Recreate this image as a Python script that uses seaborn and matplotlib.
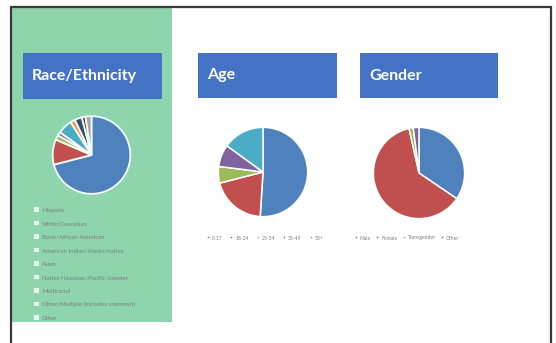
import matplotlib
matplotlib.use("Agg")
import matplotlib.pyplot as plt
from matplotlib.patches import Rectangle
from matplotlib.lines import Line2D
import seaborn as sns

# ---- data -------------------------------------------------------------
race_labels = ["Hispanic", "White/Caucasian", "Black/African American",
               "American Indian/Alaska Native", "Asian",
               "Native Hawaiian/Pacific Islander", "Multiracial",
               "Other/Multiple (includes unknown)", "Other"]
race_values = [71, 10.5, 2, 1.5, 6, 2, 3, 1.5, 2.5]

age_labels = ["0-17", "18-24", "25-34", "35-49", "50+"]
age_values = [51, 20, 6, 8, 15]

gender_labels = ["Male", "Female", "Transgender", "Other"]
gender_values = [34.5, 62, 1.5, 2]

titles = ["Race/Ethnicity", "Age", "Gender"]

# ---- style ------------------------------------------------------------
sns.set_theme(style="white")
plt.rcParams["font.family"] = ["Lato", "DejaVu Sans"]

office = sns.color_palette(["#4F81BD", "#C0504D", "#9BBB59", "#8064A2",
                            "#4BACC6", "#F79646", "#2C4D75", "#772C2A",
                            "#A5A5A5"])
panel_green = "#8ED4AC"
title_blue = "#4472C4"
legend_grey = "#7F7F7F"

W, H = 556, 343
fig = plt.figure(figsize=(W / 100, H / 100), dpi=100)
fig.patch.set_facecolor("white")


def fx(x):
    return x / W


def fy(y):
    return 1 - y / H


# green side panel
fig.patches.append(Rectangle((fx(12), fy(322)), fx(172) - fx(12), fy(8) - fy(322),
                             transform=fig.transFigure, facecolor=panel_green,
                             edgecolor="none", zorder=-5))

# outer frame (no bottom edge)
for xs, ys in [([10.5, 10.5], [343, 6.5]), ([10.5, 550.5], [6.5, 6.5]),
               ([550.5, 550.5], [6.5, 343])]:
    fig.lines.append(Line2D([fx(v) for v in xs], [fy(v) for v in ys],
                            transform=fig.transFigure, color="#3A3A3A", lw=1.6))

# title boxes
boxes = [(23, 53, 162, 99), (198, 53, 337, 98), (360, 53, 498, 98)]
for (x0, y0, x1, y1), t in zip(boxes, titles):
    fig.patches.append(Rectangle((fx(x0), fy(y1)), fx(x1) - fx(x0), fy(y0) - fy(y1),
                                 transform=fig.transFigure, facecolor=title_blue,
                                 edgecolor="none", zorder=1))
    fig.text(fx(x0 + 9), fy((y0 + y1) / 2), t, color="white", fontsize=11.5,
             fontweight="bold", ha="left", va="center", zorder=2)


def pie_axes(cx, cy, r):
    ax = fig.add_axes([fx(cx - r), fy(cy + r), fx(2 * r), fy(cy - r) - fy(cy + r)])
    ax.set_zorder(3)
    ax.patch.set_alpha(0)
    return ax


def draw_pie(ax, values, colors):
    wedges, _ = ax.pie(values, colors=colors, startangle=90, counterclock=False,
                       radius=1, wedgeprops=dict(edgecolor="white", linewidth=1.1))
    ax.set_xlim(-1.03, 1.03)
    ax.set_ylim(-1.03, 1.03)
    ax.set_aspect("equal")
    ax.axis("off")
    return wedges


# Race / Ethnicity
ax_r = pie_axes(91.5, 155, 40)
w_r = draw_pie(ax_r, race_values, office[:len(race_values)])
for w in w_r:
    w.set_edgecolor("#F4FBF7")
    w.set_linewidth(1.3)
leg_r = fig.legend(w_r, race_labels, loc="upper left",
                   bbox_to_anchor=(fx(32), fy(205)), bbox_transform=fig.transFigure,
                   frameon=False, fontsize=4.3, labelcolor=legend_grey,
                   handlelength=0.8, handleheight=0.8, handletextpad=0.5,
                   labelspacing=1.36, borderaxespad=0)
for h in leg_r.legend_handles:
    h.set_facecolor("#EAF6EE")
    h.set_edgecolor("none")

# Age
ax_a = pie_axes(263, 172, 46)
w_a = draw_pie(ax_a, age_values, office[:len(age_values)])
fig.legend(w_a, age_labels, loc="center", ncol=5,
           bbox_to_anchor=(fx(265), fy(238)), bbox_transform=fig.transFigure,
           frameon=False, fontsize=3.6, labelcolor=legend_grey,
           handlelength=0.6, handleheight=0.6, handletextpad=0.4,
           columnspacing=1.6, borderaxespad=0)

# Gender
ax_g = pie_axes(419, 173, 47)
w_g = draw_pie(ax_g, gender_values, office[:len(gender_values)])
fig.legend(w_g, gender_labels, loc="center", ncol=4,
           bbox_to_anchor=(fx(407), fy(238)), bbox_transform=fig.transFigure,
           frameon=False, fontsize=3.6, labelcolor=legend_grey,
           handlelength=0.6, handleheight=0.6, handletextpad=0.4,
           columnspacing=1.1, borderaxespad=0)

fig.savefig("out.png", dpi=100, facecolor="white")
